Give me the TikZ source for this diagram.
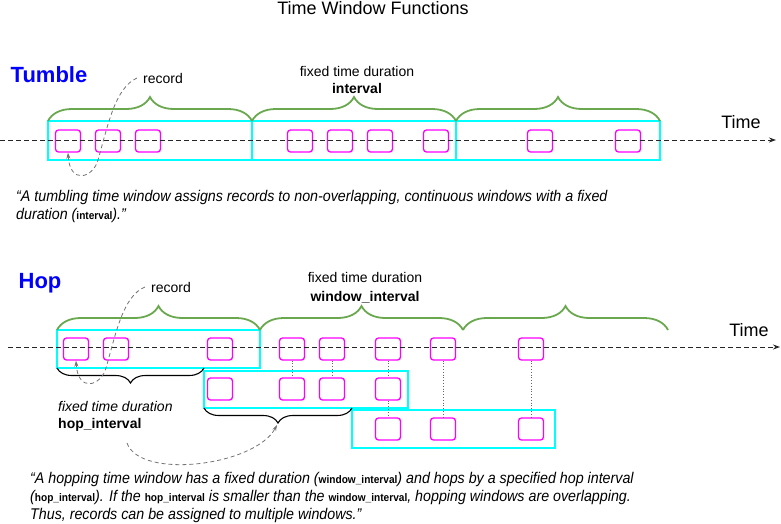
\documentclass[tikz,border=0pt]{standalone}
\usepackage{fontspec}
\setmainfont{Liberation Sans}
\newfontfamily\narrowfont[FakeStretch=0.92]{Liberation Sans}
\usetikzlibrary{arrows.meta, decorations.pathreplacing, positioning}
\definecolor{winCyan}{HTML}{00FFFF}
\definecolor{recMagenta}{HTML}{FF00FF}
\definecolor{braceGreen}{HTML}{6AA84F}
\definecolor{labelBlue}{HTML}{0000FF}
\newcommand{\codeword}[1]{{\fontsize{11}{11}\selectfont\bfseries\upshape #1}}

\begin{document}
\begin{tikzpicture}[x=1pt, y=-1pt,
    window/.style={rectangle, draw=winCyan, line width=1.3pt, inner sep=0pt, outer sep=0pt, minimum height=38pt},
    rec/.style={rectangle, draw=recMagenta, line width=1.3pt, rounded corners=3pt, minimum width=25pt, minimum height=22pt, inner sep=0pt},
    gbrace/.style={decorate, decoration={brace, amplitude=24pt}, draw=braceGreen, line width=1.8pt},
    kbrace/.style={decorate, decoration={brace, amplitude=15pt}, draw=black, line width=1.1pt},
    timeline/.style={draw=black!85, dash pattern=on 5pt off 3pt, line width=0.9pt, -{Stealth[length=7pt, width=5pt]}},
    pointer/.style={draw=black!55, dash pattern=on 4pt off 3pt, line width=0.8pt, -{Stealth[length=6pt, width=4pt]}},
    link/.style={draw=black!60, dotted, line width=0.8pt},
    lbl/.style={font=\fontsize{14}{17}\selectfont, inner sep=0pt},
    heading/.style={font=\fontsize{22}{22}\selectfont\bfseries, text=labelBlue, inner sep=0pt},
    quote/.style={font=\narrowfont\itshape\fontsize{15.5}{18}\selectfont, align=left, inner sep=0pt, anchor=west}
]
\useasboundingbox (0,0) rectangle (781,523);

\node[font=\fontsize{18}{18}\selectfont, inner sep=0pt] (title) at (373,8) {Time Window Functions};

% Tumble: three windows side by side
\node[heading] (tumbleLbl) at (49,75) {Tumble};
\node[window, minimum width=204pt, minimum height=39pt] (tw1) at (150,140.5) {};
\node[window, minimum width=204pt, minimum height=39pt, right=0pt of tw1] (tw2) {};
\node[window, minimum width=204pt, minimum height=39pt, right=0pt of tw2] (tw3) {};
\foreach \x [count=\i] in {68,108,148,300,340,380,436,540,628}
    \node[rec] (tr\i) at (\x,141) {};

\draw[gbrace] (tw1.north west) -- (tw1.north east);
\draw[gbrace] (tw2.north west) -- (tw2.north east);
\draw[gbrace] (tw3.north west) -- (tw3.north east);

\node[lbl] (recT) at (163,78) {record};
\node[lbl, align=center] (durT) at (357,79.5) {fixed time duration\\\textbf{interval}};

\coordinate (tumbleStart) at (0,140);
\coordinate (tumbleEnd) at (776,140);
\draw[timeline] (tumbleStart) -- (tumbleEnd);
\node[font=\fontsize{18}{18}\selectfont, inner sep=0pt] (timeT) at (741,122) {Time};

\draw[pointer] ([xshift=-6pt]recT.west) .. controls (115,88) and (108,125) .. (98,160)
    .. controls (93,178) and (70,185) .. (tr1.south);

\node[quote] (tumbleTxt) at (16,206) {“A tumbling time window assigns records to non-overlapping, continuous windows with a fixed\\duration (\codeword{interval}).”};

% Hop: overlapping windows, shifted by the hop interval
\node[heading] (hopLbl) at (40,283) {Hop};
\node[window, minimum width=203pt] (hw1) at (158.5,349) {};
\node[window, minimum width=204pt, minimum height=37pt] (hw2) at (306,389.5) {};
\node[window, minimum width=203pt] (hw3) at (453.5,429) {};

\foreach \x [count=\i] in {76,116,220,292,332,388,443,531}
    \node[rec] (hr\i) at (\x,349) {};
\foreach \x [count=\i] in {220,292,332,388}
    \node[rec] (hs\i) at (\x,389) {};
\foreach \x [count=\i] in {388,443,531}
    \node[rec] (ht\i) at (\x,429) {};

\foreach \a/\b in {hr4/hs2, hr5/hs3, hr6/hs4, hs4/ht1, hr7/ht2, hr8/ht3}
    \draw[link] (\a) -- (\b);

\coordinate (hopBrace2) at ([xshift=203pt]hw1.north east);
\coordinate (hopBrace3) at ([xshift=205pt]hopBrace2);
\draw[gbrace] (hw1.north west) -- (hw1.north east);
\draw[gbrace] (hw1.north east) -- (hopBrace2);
\draw[gbrace] (hopBrace2) -- (hopBrace3);

\draw[kbrace] (hw2.west |- hw1.south) -- (hw1.south west);
\draw[kbrace] (hw3.west |- hw2.south) -- (hw2.south west);
\coordinate (hopTip) at (277,425);

\node[lbl] (recH) at (171,287) {record};
\node[lbl, align=center, font=\fontsize{14}{19}\selectfont] (durH) at (365,287.5) {fixed time duration\\\textbf{window\_interval}};
\node[lbl, align=left, anchor=west] (hopDur) at (58,416.5) {\textit{fixed time duration}\\\textbf{hop\_interval}};

\coordinate (hopStart) at (8,347);
\coordinate (hopEnd) at (780,347);
\draw[timeline] (hopStart) -- (hopEnd);
\node[font=\fontsize{18}{18}\selectfont, inner sep=0pt] (timeH) at (749,330) {Time};

\draw[pointer] ([xshift=-6pt]recH.west) .. controls (123,296) and (116,333) .. (106,368)
    .. controls (101,386) and (78,393) .. (hr1.south);
\coordinate (hopDurFoot) at (127,443);
\draw[pointer] (hopDurFoot) .. controls (140,480) and (255,466) .. (hopTip);

\node[quote] (hopTxt) at (30,497) {“A hopping time window has a fixed duration (\codeword{window\_interval}) and hops by a specified hop interval\\(\codeword{hop\_interval}). If the \codeword{hop\_interval} is smaller than the \codeword{window\_interval}, hopping windows are overlapping.\\Thus, records can be assigned to multiple windows.”};
\end{tikzpicture}
\end{document}
